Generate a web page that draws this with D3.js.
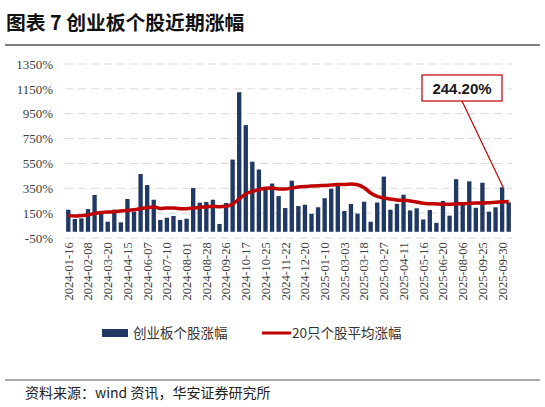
<!DOCTYPE html>
<html>
<head>
<meta charset="utf-8">
<script src="https://cdn.jsdelivr.net/npm/d3@7"></script>
<style>
  body { margin: 0; background: #fff; }
  svg { display: block; }
  .tick text { font-family: "Liberation Serif", "Times New Roman", "DejaVu Serif", serif; }
</style>
</head>
<body>
<div class="container"></div>
<script>
const stockGains = [178, 103, 108, 183, 296, 143, 81, 178, 76, 264,
  162, 465, 376, 258, 95, 113, 127, 95, 105, 352,
  234, 240, 258, 63, 232, 581, 1123, 858, 564, 501,
  350, 388, 287, 191, 411, 207, 218, 145, 197, 270,
  346, 370, 167, 224, 146, 242, 81, 236, 444, 178,
  225, 298, 172, 189, 99, 175, 72, 248, 130, 423,
  220, 406, 193, 395, 162, 197, 358, 236]

const avgGains = [130, 127, 130, 135, 148, 156, 159, 162, 167, 172,
  178, 186, 194, 200, 188, 192, 192, 186, 186, 192,
  196, 202, 205, 202, 205, 224, 264, 304, 325, 339,
  350, 352, 345, 345, 352, 360, 365, 368, 371, 373,
  376, 381, 381, 384, 379, 355, 312, 285, 272, 264,
  256, 253, 248, 240, 229, 226, 224, 221, 221, 224,
  226, 229, 232, 232, 234, 237, 242, 244.2]

// one label for every third stock
const dateLabels = ["2024-01-16", "2024-02-08", "2024-03-20", "2024-04-15", "2024-06-07",
  "2024-07-10", "2024-08-01", "2024-08-28", "2024-09-26", "2024-10-17",
  "2024-10-25", "2024-11-22", "2024-12-20", "2025-01-10", "2025-03-03",
  "2025-03-18", "2025-03-27", "2025-04-11", "2025-05-16", "2025-06-20",
  "2025-08-06", "2025-09-25", "2025-09-30"]

const yTicks = [-50, 150, 350, 550, 750, 950, 1150, 1350]

const w = 545
const h = 407
const padLeft = 65
const padRight = 512
const padTop = 64
const padBottom = 238

const svg = d3.select(".container")
  .append("svg")
  .attr("width", w)
  .attr("height", h)

// title
svg.append("text")
  .attr("x", 6)
  .attr("y", 30)
  .style("font-family", "'Noto Sans CJK SC', sans-serif")
  .style("font-weight", "bold")
  .style("font-size", "19.8px")
  .style("fill", "#111")
  .text("图表 7 创业板个股近期涨幅")

svg.append("line")
  .attr("x1", 5).attr("x2", 540)
  .attr("y1", 45).attr("y2", 45)
  .attr("stroke", "#555")
  .attr("stroke-width", 1.5)

const idx = d3.range(stockGains.length)

const xScale = d3.scaleBand().domain(idx).range([padLeft, padRight]).paddingInner(0.34).paddingOuter(0.17)
const yScale = d3.scaleLinear().domain([-50, 1350]).range([padBottom, padTop])

// grid
svg.append("g")
  .selectAll("line")
  .data(yTicks)
  .enter()
  .append("line")
  .attr("x1", padLeft)
  .attr("x2", padRight)
  .attr("y1", d => yScale(d))
  .attr("y2", d => yScale(d))
  .attr("stroke", "#d9d9d9")
  .attr("stroke-width", 1)
  .attr("stroke-dasharray", "8,5")

const yAxis = d3.axisLeft(yScale).tickValues(yTicks).tickFormat(d => d + "%").tickSize(0).tickPadding(0)

const yg = svg.append("g")
  .attr("transform", "translate(53,0)")
  .call(yAxis)
  .attr("font-family", null)
yg.select(".domain").remove()
yg.selectAll("text")
  .style("font-size", "13px")
  .style("fill", "#404040")

svg.append("g")
  .selectAll("rect")
  .data(stockGains)
  .enter()
  .append("rect")
  .attr("x", (d, i) => xScale(i))
  .attr("y", d => yScale(d))
  .attr("width", xScale.bandwidth())
  .attr("height", d => yScale(0) - yScale(d))
  .attr("fill", "#203864")

const line = d3.line()
  .x((d, i) => xScale(i) + xScale.bandwidth() / 2)
  .y(d => yScale(d))
  .curve(d3.curveMonotoneX)

svg.append("path")
  .datum(avgGains)
  .attr("d", line)
  .attr("fill", "none")
  .attr("stroke", "#c00000")
  .attr("stroke-width", 3.5)
  .attr("stroke-linejoin", "round")

const xAxis = d3.axisBottom(xScale)
  .tickValues(idx.filter(i => i % 3 === 0))
  .tickFormat(i => dateLabels[i / 3])
  .tickSize(0)

const xg = svg.append("g")
  .attr("transform", "translate(0," + (padBottom + 3) + ")")
  .call(xAxis)
  .attr("font-family", null)
xg.select(".domain").remove()
xg.selectAll("text")
  .attr("transform", "rotate(-90)")
  .attr("x", 0)
  .attr("y", 0)
  .attr("dx", "-0.1em")
  .attr("dy", "0.35em")
  .style("text-anchor", "end")
  .style("font-size", "12.5px")
  .style("fill", "#404040")

// callout for the last average value
const lastI = avgGains.length - 2
const px = xScale(lastI) + xScale.bandwidth() / 2
const py = yScale(stockGains[lastI])

svg.append("line")
  .attr("x1", 462).attr("y1", 101)
  .attr("x2", px + 1).attr("y2", py)
  .attr("stroke", "#c00000")
  .attr("stroke-width", 1.2)

svg.append("rect")
  .attr("x", 422)
  .attr("y", 75)
  .attr("width", 80)
  .attr("height", 26)
  .attr("fill", "#fff")
  .attr("stroke", "#c00000")
  .attr("stroke-width", 1.2)

svg.append("text")
  .attr("x", 462)
  .attr("y", 94)
  .style("text-anchor", "middle")
  .style("font-family", "'Liberation Sans', Arial, sans-serif")
  .style("font-weight", "bold")
  .style("font-size", "15px")
  .style("fill", "#1a1a1a")
  .text(d3.format(".2f")(avgGains[avgGains.length - 1]) + "%")

// legend
const legend = svg.append("g")
  .style("font-family", "'Noto Sans CJK SC', sans-serif")
  .style("font-size", "13.5px")
  .style("fill", "#333")

legend.append("rect")
  .attr("x", 102).attr("y", 329)
  .attr("width", 26).attr("height", 8)
  .attr("fill", "#203864")

legend.append("text")
  .attr("x", 133).attr("y", 338)
  .text("创业板个股涨幅")

legend.append("line")
  .attr("x1", 262).attr("x2", 291)
  .attr("y1", 333).attr("y2", 333)
  .attr("stroke", "#c00000")
  .attr("stroke-width", 3)

legend.append("text")
  .attr("x", 292).attr("y", 338)
  .text("20只个股平均涨幅")

// source
svg.append("line")
  .attr("x1", 5).attr("x2", 540)
  .attr("y1", 380).attr("y2", 380)
  .attr("stroke", "#555")
  .attr("stroke-width", 1)

svg.append("text")
  .attr("x", 25)
  .attr("y", 398)
  .style("font-family", "'Noto Sans CJK SC', sans-serif")
  .style("font-size", "14px")
  .style("fill", "#222")
  .text("资料来源：wind 资讯，华安证券研究所")
</script>
</body>
</html>
